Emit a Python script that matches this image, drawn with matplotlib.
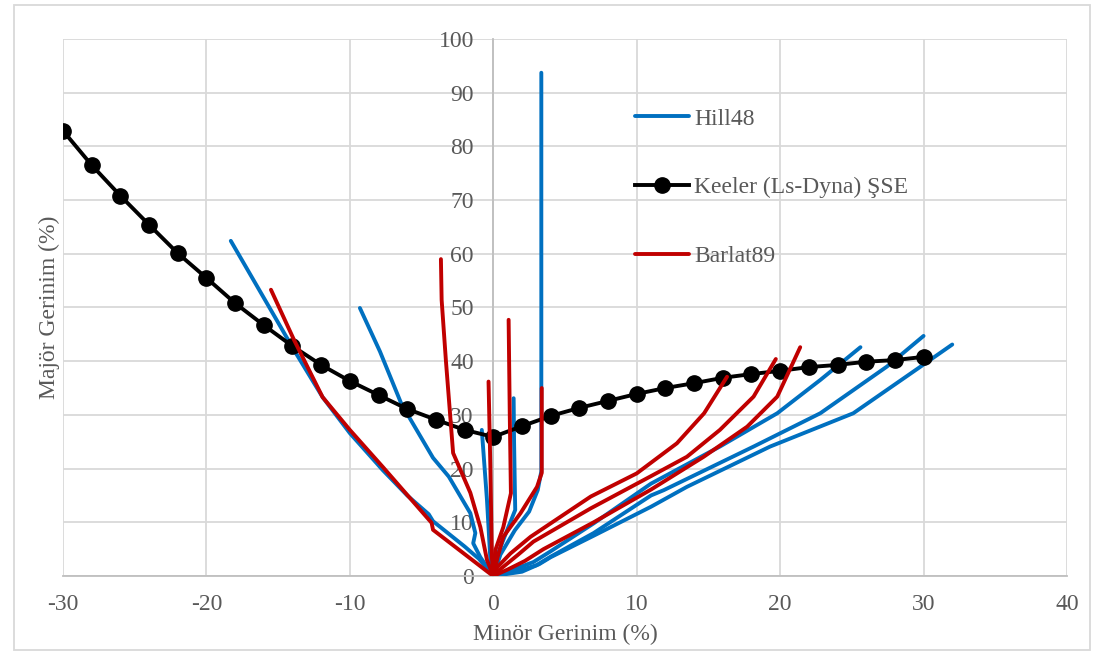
import matplotlib
matplotlib.use('Agg')
from matplotlib import pyplot as plt
from matplotlib.patches import Rectangle
import numpy as np

# colours (Excel style)
blue = '#0070C0'
red = '#C00000'
black = '#000000'
grid_gray = '#D9D9D9'
axis_gray = '#BFBFBF'
text_gray = '#595959'

matplotlib.rcParams['font.family'] = ['Liberation Serif', 'DejaVu Serif']
matplotlib.rcParams['font.size'] = 17
matplotlib.rcParams['axes.unicode_minus'] = False

# ---- data -------------------------------------------------------------
# Keeler (Ls-Dyna) forming limit curve
keeler_x = [-30, -28, -26, -24, -22, -20, -18, -16, -14, -12, -10, -8, -6, -4, -2, 0,
            2, 4, 6, 8, 10, 12, 14, 16, 18, 20, 22, 24, 26, 28, 30]
keeler_y = [82.9, 76.5, 70.8, 65.4, 60.1, 55.5, 50.8, 46.7, 42.8, 39.3, 36.3, 33.7, 31.1, 29.1, 27.2, 25.9,
            27.9, 29.8, 31.3, 32.6, 33.9, 35.0, 35.9, 36.9, 37.6, 38.2, 38.9, 39.3, 39.9, 40.2, 40.8]

# Hill48 strain paths (minor, major)
hill48_x = [
    [0, -1, -2, -4.2, -4.5, -6, -7.7, -10, -11.9, -13.9, -16, -18.3],
    [0, -0.9, -1.4, -1.25, -1.6, -3.1, -4.2, -6.4, -7.9, -9.3],
    [0, -0.2, -0.44, -0.8],
    [0, 0.3, 1.05, 1.53, 1.45, 1.42],
    [0, 0.5, 1.5, 2.5, 3.1, 3.35, 3.35, 3.35],
    [0, 1.2, 2.8, 4, 7, 11, 15.8, 19.8, 22.8, 25.6],
    [0, 1.5, 3, 4, 7, 11, 11.9, 18.15, 22.8, 27.45, 30],
    [0, 2, 3.2, 4, 7, 11, 13.5, 19.3, 25.1, 29.8, 32],
]
hill48_y = [
    [0, 3.2, 5.5, 10.2, 11.5, 15, 19.7, 26.6, 33.3, 42.1, 51.8, 62.4],
    [0, 3.5, 6.1, 8.0, 11.7, 18.5, 22.0, 32.0, 41.8, 49.9],
    [0, 3, 14.2, 27.2],
    [0, 4, 9.1, 12.3, 25, 33.1],
    [0, 4, 8.5, 12, 16, 19.5, 35, 93.7],
    [0, 1.0, 2.6, 4.6, 9.8, 17.2, 24.1, 30.3, 36.5, 42.6],
    [0, 0.8, 2.0, 3.6, 8.0, 15.0, 16.0, 24.1, 30.3, 39.0, 44.7],
    [0, 0.8, 2.2, 3.5, 7.5, 12.9, 16.6, 24.1, 30.3, 39.0, 43.1],
]

# Barlat89 strain paths (minor, major)
barlat89_x = [
    [0, -0.5, -4.2, -4.3, -7.7, -10, -11.9, -13.9, -15.5],
    [0, -0.44, -0.9, -1.6, -2.8, -3.3, -3.6, -3.65],
    [0, -0.1, -0.2, -0.33],
    [0, 0.14, 0.7, 1.23, 1.15, 1.07],
    [0, 0.3, 0.7, 1.9, 3.05, 3.38, 3.38],
    [0, 0.3, 1.2, 2.6, 6.8, 10, 12.8, 14.7, 16.3],
    [0, 0.6, 1.7, 2.8, 6.8, 11, 13.5, 15.8, 18.15, 19.7],
    [0, 1, 2.2, 3.5, 7, 11, 14.67, 17.7, 19.8, 21.4],
]
barlat89_y = [
    [0, 1, 8.6, 9.9, 20.3, 27.2, 33.3, 44.0, 53.3],
    [0, 3, 9.1, 15.5, 22.9, 40, 51.4, 59],
    [0, 3.6, 20, 36.2],
    [0, 4.8, 9.1, 15.4, 30, 47.7],
    [0, 3.5, 7.3, 11.7, 16.6, 19.2, 35],
    [0, 1.7, 4.2, 7.3, 14.8, 19.1, 24.7, 30.3, 37.1],
    [0, 1.5, 3.9, 6.4, 12.6, 18.6, 22.2, 27.2, 33.4, 40.4],
    [0, 1.2, 2.8, 5.0, 10.0, 16.1, 22.2, 27.8, 33.4, 42.6],
]

x_ticks = [-30, -20, -10, 0, 10, 20, 30, 40]
y_ticks = [0, 10, 20, 30, 40, 50, 60, 70, 80, 90, 100]

# ---- figure -----------------------------------------------------------
fig = plt.figure(figsize=(11.05, 6.55), dpi=100)
ax = fig.add_axes([0.057, 0.1206, 0.9086, 0.82])

lw = 2.8
for i, (xs, ys) in enumerate(zip(hill48_x, hill48_y)):
    ax.plot(xs, ys, color=blue, lw=lw, solid_capstyle='round', solid_joinstyle='round',
            label='Hill48' if i == 0 else None, zorder=3)
ax.plot(keeler_x, keeler_y, color=black, lw=2.8, marker='o', ms=11,
        label='Keeler (Ls-Dyna) ŞSE', zorder=4)
for i, (xs, ys) in enumerate(zip(barlat89_x, barlat89_y)):
    ax.plot(xs, ys, color=red, lw=lw, solid_capstyle='round', solid_joinstyle='round',
            label='Barlat89' if i == 0 else None, zorder=5)

ax.set_xlim(-30, 40)
ax.set_ylim(0, 100)
ax.set_xticks(x_ticks)
ax.set_yticks(y_ticks)
ax.grid(True, color=grid_gray, lw=1.3, zorder=0)
ax.set_axisbelow(True)

for s in ['top', 'right']:
    ax.spines[s].set_visible(False)
ax.spines['left'].set_position(('data', 0))
ax.spines['left'].set_color(axis_gray)
ax.spines['bottom'].set_color(axis_gray)
ax.spines['left'].set_linewidth(1.3)
ax.spines['bottom'].set_linewidth(1.3)
ax.tick_params(axis='both', length=0, colors=text_gray, labelsize=17)
ax.tick_params(axis='y', pad=14)
ax.tick_params(axis='x', pad=13)

ax.set_xlabel('Minör Gerinim (%)', color=text_gray, fontsize=17, labelpad=6)
ax.set_ylabel('Majör Gerinim (%)', color=text_gray, fontsize=17)
ax.yaxis.set_label_coords(60 / 1105, (1 - 307 / 655), transform=fig.transFigure)

leg = ax.legend(loc='upper left', bbox_to_anchor=(0.564, 0.853), bbox_transform=fig.transFigure,
                frameon=False, fontsize=17, handlelength=2.3, handletextpad=0.2,
                labelspacing=2.0, borderpad=0)
for t in leg.get_texts():
    t.set_color(text_gray)

# outer chart border
fig.patches.append(Rectangle((14 / 1105, 5 / 655), 1076 / 1105, 645 / 655,
                             transform=fig.transFigure, fill=False,
                             edgecolor=grid_gray, lw=1.3))

fig.savefig('out.png', dpi=100)
